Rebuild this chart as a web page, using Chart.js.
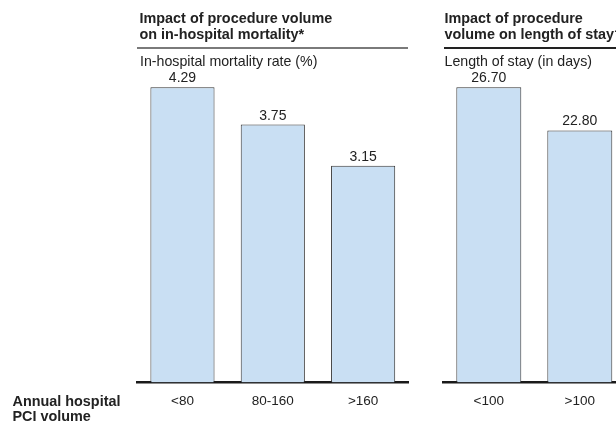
<!DOCTYPE html>
<html>
<head>
<meta charset="utf-8">
<script src="https://cdn.jsdelivr.net/npm/chart.js@4/dist/chart.umd.min.js"></script>
<style>
  html, body { margin: 0; padding: 0; width: 616px; height: 421px; overflow: hidden; background: #fff; }
  body { position: relative; font-family: 'Liberation Sans', Arial, sans-serif; color: #222; }
  .t { position: absolute; white-space: nowrap; font-size: 14.2px; line-height: 16px; }
  .b { font-weight: bold; font-size: 14.4px; }
  .hl { position: absolute; }
  canvas { position: absolute; top: 0; }
</style>
</head>
<body>
<canvas id="cA" width="420" height="421" style="left:0px;width:420px;height:421px"></canvas>
<canvas id="cB" width="260" height="421" style="left:400px;width:260px;height:421px"></canvas>

<div class="t b" style="left:139.5px;top:9.7px">Impact of procedure volume<br>on in-hospital mortality*</div>
<div class="hl" style="left:137px;top:46.5px;width:271px;height:2px;background:#7a7a7a"></div>
<div class="t" style="left:140px;top:53px">In-hospital mortality rate (%)</div>

<div class="t b" style="left:444.5px;top:9.7px">Impact of procedure<br>volume on length of stay†</div>
<div class="hl" style="left:443.5px;top:47px;width:200px;height:1.5px;background:#222"></div>
<div class="t" style="left:444.5px;top:53px">Length of stay (in days)</div>

<div class="t b" style="left:12.5px;top:394px;line-height:15px">Annual hospital<br>PCI volume</div>

<script>
// ---- data ----
const mortalityCategories = ['<80', '80-160', '>160'];
const mortalityValues = [4.29, 3.75, 3.15];
const stayCategories = ['<100', '>100'];
const stayValues = [26.70, 22.80];

Chart.defaults.font.family = "'Liberation Sans', Arial, sans-serif";
Chart.defaults.color = '#222';

const valueLabels = {
  id: 'valueLabels',
  afterDatasetsDraw(chart) {
    const ctx = chart.ctx;
    ctx.save();
    ctx.font = "14px 'Liberation Sans', Arial, sans-serif";
    ctx.fillStyle = '#222';
    ctx.textAlign = 'center';
    ctx.textBaseline = 'alphabetic';
    chart.data.datasets.forEach((ds, di) => {
      chart.getDatasetMeta(di).data.forEach((bar, i) => {
        ctx.fillText(Number(ds.data[i]).toFixed(2), bar.x, bar.y - 5);
      });
    });
    ctx.restore();
  }
};

function makeChart(id, labels, values, yMax, pad, barPct) {
  return new Chart(document.getElementById(id), {
    type: 'bar',
    data: {
      labels: labels,
      datasets: [{
        data: values,
        backgroundColor: '#c9dff3',
        borderColor: '#333333',
        borderWidth: 1,
        categoryPercentage: 1,
        barPercentage: barPct
      }]
    },
    plugins: [valueLabels],
    options: {
      responsive: false,
      animation: false,
      devicePixelRatio: 1,
      layout: { padding: pad },
      plugins: { legend: { display: false }, tooltip: { enabled: false } },
      scales: {
        x: {
          grid: { display: false, drawTicks: false },
          border: { display: true, color: '#1a1a1a', width: 2.5 },
          ticks: { font: { size: 13.5 }, padding: 11, color: '#222', maxRotation: 0, autoSkip: false },
          afterFit: (s) => { s.height = 421 - 382.5; }
        },
        y: {
          display: false,
          min: 0,
          max: yMax
        }
      }
    }
  });
}

makeChart('cA', mortalityCategories, mortalityValues, 5, { left: 137.3, right: 11.7, top: 38.5, bottom: 0 }, 0.71);
makeChart('cB', stayCategories, stayValues, 30, { left: 43.3, right: 34.7, top: 50.8, bottom: 0 }, 0.714);
</script>
</body>
</html>
